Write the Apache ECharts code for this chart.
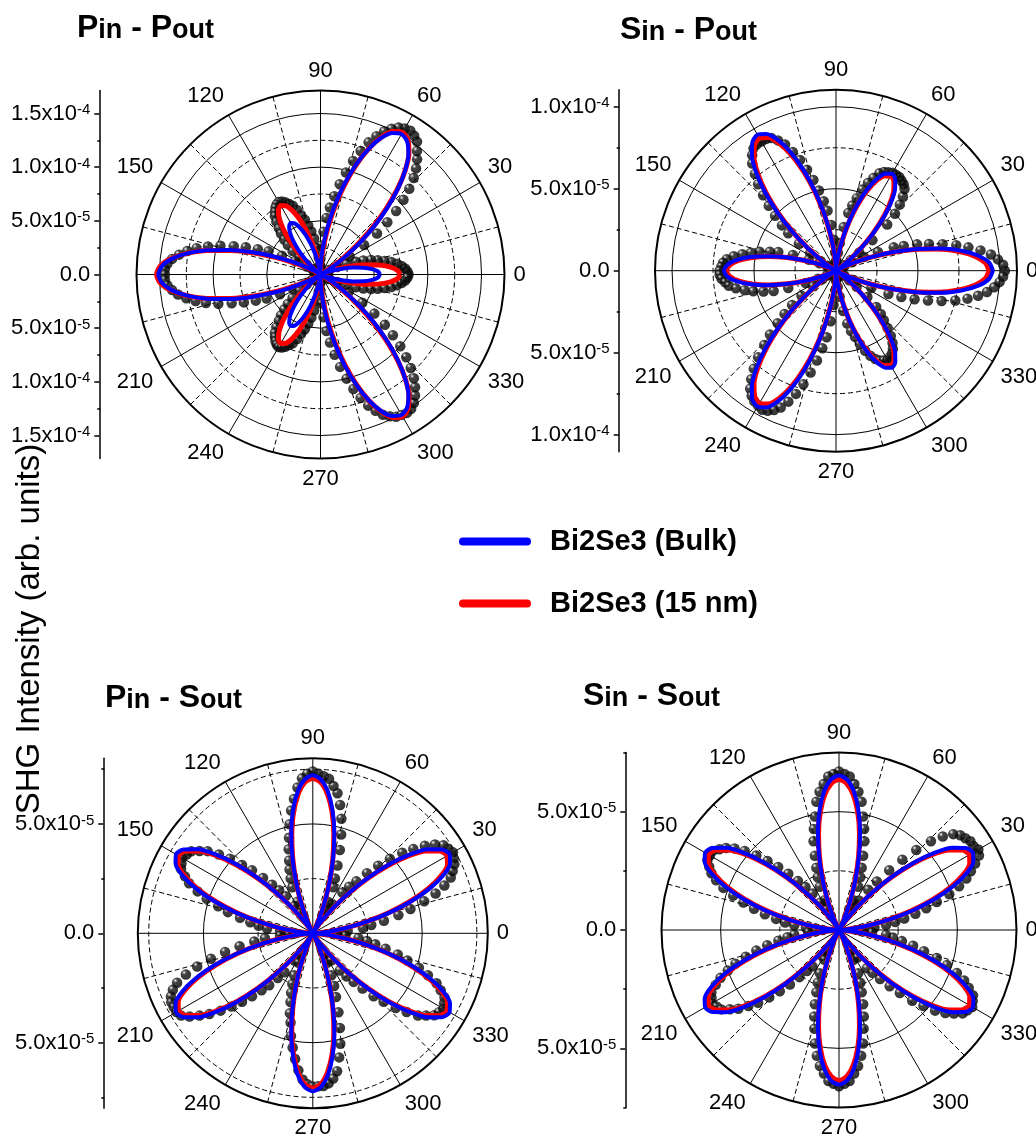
<!DOCTYPE html>
<html><head><meta charset="utf-8">
<script src="https://cdn.jsdelivr.net/npm/echarts@6/dist/echarts.min.js"></script>
<style>html,body{margin:0;padding:0;background:#fff}#c{width:1036px;height:1139px}</style>
</head><body><div id="c"></div>
<script>
// Values in units of 1e-6 (arb. units); angles in degrees
// measured points every 2 degrees, fitted curves sampled every 3 degrees
const dataAngles = [0,2,4,6,8,10,12,14,16,18,20,22,24,26,28,30,32,34,36,38,40,42,44,46,48,50,52,54,56,58,60,62,64,66,68,70,72,74,76,78,80,82,84,86,88,90,92,94,96,98,100,102,104,106,108,110,112,114,116,118,120,122,124,126,128,130,132,134,136,138,140,142,144,146,148,150,152,154,156,158,160,162,164,166,168,170,172,174,176,178,180,182,184,186,188,190,192,194,196,198,200,202,204,206,208,210,212,214,216,218,220,222,224,226,228,230,232,234,236,238,240,242,244,246,248,250,252,254,256,258,260,262,264,266,268,270,272,274,276,278,280,282,284,286,288,290,292,294,296,298,300,302,304,306,308,310,312,314,316,318,320,322,324,326,328,330,332,334,336,338,340,342,344,346,348,350,352,354,356,358];
const fitAngles = [0,3,6,9,12,15,18,21,24,27,30,33,36,39,42,45,48,51,54,57,60,63,66,69,72,75,78,81,84,87,90,93,96,99,102,105,108,111,114,117,120,123,126,129,132,135,138,141,144,147,150,153,156,159,162,165,168,171,174,177,180,183,186,189,192,195,198,201,204,207,210,213,216,219,222,225,228,231,234,237,240,243,246,249,252,255,258,261,264,267,270,273,276,279,282,285,288,291,294,297,300,303,306,309,312,315,318,321,324,327,330,333,336,339,342,345,348,351,354,357];

// Pin - Pout
const ppData = [82,81,79,76,72,67,61,55,49,42,35,26,17,9,
 9,17,32,49,65,79,92,104,115,125,133,140,146,153,156,158,157,155,151,146,139,131,121,110,98,86,74,63,53,40,27,15,8,
 9,16,25,34,41,47,53,58,64,69,72,75,77,78,77,75,72,69,64,58,53,47,41,34,25,16,9,
 8,15,27,40,53,63,74,85,97,108,118,126,133,139,143,145,145,145,143,139,134,127,119,110,99,87,76,65,55,42,29,16,9,
 9,16,25,34,41,47,53,58,64,69,72,75,77,78,77,75,72,69,64,58,53,47,41,34,25,16,9,
 8,15,27,40,53,64,76,88,100,111,121,130,137,143,147,150,151,152,151,148,143,137,130,121,111,100,88,76,62,47,31,17,9,
 9,17,26,35,42,49,55,61,67,72,76,79,81];
const ppThin = [74.1,71.9,65.6,55.8,43.7,30.7,18.4,8.3,1.9,0.1,3.5,12.3,26.1,44.0,64.6,86.2,107.2,125.7,140.2,149.5,152.7,149.5,140.2,125.7,107.2,86.2,64.6,44.0,26.1,12.3,3.5,0.1,1.9,8.3,18.4,30.7,43.7,55.8,65.6,71.9,
74.1,71.9,65.6,55.8,43.7,30.7,18.4,8.3,1.9,0.1,3.5,12.3,26.1,44.0,64.6,86.2,107.2,125.7,140.2,149.5,152.7,149.5,140.2,125.7,107.2,86.2,64.6,44.0,26.1,12.3,3.5,0.1,1.9,8.3,18.4,30.7,43.7,55.8,65.6,71.9,
74.1,71.9,65.6,55.8,43.7,30.7,18.4,8.3,1.9,0.1,3.5,12.3,26.1,44.0,64.6,86.2,107.2,125.7,140.2,149.5,152.7,149.5,140.2,125.7,107.2,86.2,64.6,44.0,26.1,12.3,3.5,0.1,1.9,8.3,18.4,30.7,43.7,55.8,65.6,71.9];
const ppBulk = [55.4,53.6,48.4,40.5,30.9,20.7,11.4,4.2,0.4,0.8,5.9,15.7,29.9,47.6,67.6,88.3,108.2,125.7,139.4,148.0,151.0,148.0,139.4,125.7,108.2,88.3,67.6,47.6,29.9,15.7,5.9,0.8,0.4,4.2,11.4,20.7,30.9,40.5,48.4,53.6,
55.4,53.6,48.4,40.5,30.9,20.7,11.4,4.2,0.4,0.8,5.9,15.7,29.9,47.6,67.6,88.3,108.2,125.7,139.4,148.0,151.0,148.0,139.4,125.7,108.2,88.3,67.6,47.6,29.9,15.7,5.9,0.8,0.4,4.2,11.4,20.7,30.9,40.5,48.4,53.6,
55.4,53.6,48.4,40.5,30.9,20.7,11.4,4.2,0.4,0.8,5.9,15.7,29.9,47.6,67.6,88.3,108.2,125.7,139.4,148.0,151.0,148.0,139.4,125.7,108.2,88.3,67.6,47.6,29.9,15.7,5.9,0.8,0.4,4.2,11.4,20.7,30.9,40.5,48.4,53.6];

// Sin - Pout
const spData = [103,102,99,95,89,82,75,67,59,52,44,38,28,19,11,6,
 4,6,11,18,29,42,50,56,61,65,67,68,69,69,69,68,67,65,61,57,52,46,41,36,27,17,11,6,4,
 6,11,19,28,37,43,50,57,64,71,77,83,87,90,91,91,91,90,87,83,77,71,64,57,50,43,37,28,19,11,6,
 4,6,11,18,28,37,42,48,53,58,63,67,69,70,71,71,70,68,66,62,57,52,46,40,31,20,12,6,4,
 6,10,17,26,34,41,48,56,63,71,78,84,89,92,94,95,96,95,93,90,85,79,72,64,56,48,41,31,21,12,6,
 4,5,10,16,25,33,38,42,47,52,56,59,61,62,63,62,61,59,56,52,47,42,38,33,25,16,10,5,4,
 6,13,24,35,43,51,59,67,75,82,88,93,97,100,102];
const spThin = [93.3,91.2,85.1,75.5,63.3,49.7,35.8,23.0,12.2,4.6,0.6,0.4,4.0,10.9,20.2,30.9,41.8,51.8,59.8,64.9,66.7,64.9,59.8,51.8,41.8,30.9,20.2,10.9,4.0,0.4,0.6,4.6,12.2,23.0,35.8,49.7,63.3,75.5,85.1,91.2,
93.3,91.2,85.1,75.5,63.3,49.7,35.8,23.0,12.2,4.6,0.6,0.4,4.0,10.9,20.2,30.9,41.8,51.8,59.8,64.9,66.7,64.9,59.8,51.8,41.8,30.9,20.2,10.9,4.0,0.4,0.6,4.6,12.2,23.0,35.8,49.7,63.3,75.5,85.1,91.2,
93.3,91.2,85.1,75.5,63.3,49.7,35.8,23.0,12.2,4.6,0.6,0.4,4.0,10.9,20.2,30.9,41.8,51.8,59.8,64.9,66.7,64.9,59.8,51.8,41.8,30.9,20.2,10.9,4.0,0.4,0.6,4.6,12.2,23.0,35.8,49.7,63.3,75.5,85.1,91.2];
const spBulk = [95.7,93.6,87.3,77.5,65.0,51.0,36.8,23.6,12.6,4.7,0.6,0.4,4.1,11.1,20.6,31.6,42.7,53.0,61.2,66.4,68.3,66.4,61.2,53.0,42.7,31.6,20.6,11.1,4.1,0.4,0.6,4.7,12.6,23.6,36.8,51.0,65.0,77.5,87.3,93.6,
95.7,93.6,87.3,77.5,65.0,51.0,36.8,23.6,12.6,4.7,0.6,0.4,4.1,11.1,20.6,31.6,42.7,53.0,61.2,66.4,68.3,66.4,61.2,53.0,42.7,31.6,20.6,11.1,4.1,0.4,0.6,4.7,12.6,23.6,36.8,51.0,65.0,77.5,87.3,93.6,
95.7,93.6,87.3,77.5,65.0,51.0,36.8,23.6,12.6,4.7,0.6,0.4,4.1,11.1,20.6,31.6,42.7,53.0,61.2,66.4,68.3,66.4,61.2,53.0,42.7,31.6,20.6,11.1,4.1,0.4,0.6,4.7,12.6,23.6,36.8,51.0,65.0,77.5,87.3,93.6];

// Pin - Sout
const psData = [9,12,16,23,27,33,40,46,53,59,64,68,70,72,73,74,73,72,69,65,60,55,49,43,37,31,27,23,16,12,
 9,12,16,23,27,33,40,47,54,60,65,68,71,72,73,74,73,71,67,62,57,51,45,40,35,31,27,23,16,12,
 8,11,15,21,25,29,34,40,45,51,56,61,64,67,68,69,68,67,64,61,56,51,45,40,34,29,25,21,15,11,
 8,11,15,22,27,34,41,48,55,61,66,69,71,72,72,72,71,68,64,60,55,50,45,40,35,31,26,22,15,11,
 8,11,15,21,25,29,33,38,42,48,53,58,63,67,69,70,70,70,69,67,64,58,52,45,38,31,26,21,15,11,
 8,11,15,21,25,29,34,40,45,51,56,61,64,67,68,69,68,67,64,61,56,51,45,40,34,29,25,21,15,11];
const psThin = [0,1.7,6.8,14.6,24.5,35.4,46.3,56.2,64.0,69.1,70.8,69.1,64.0,56.2,46.3,35.4,24.5,14.6,6.8,1.7,
0,1.7,6.8,14.6,24.5,35.4,46.3,56.2,64.0,69.1,70.8,69.1,64.0,56.2,46.3,35.4,24.5,14.6,6.8,1.7,
0,1.7,6.8,14.6,24.5,35.4,46.3,56.2,64.0,69.1,70.8,69.1,64.0,56.2,46.3,35.4,24.5,14.6,6.8,1.7,
0,1.7,6.8,14.6,24.5,35.4,46.3,56.2,64.0,69.1,70.8,69.1,64.0,56.2,46.3,35.4,24.5,14.6,6.8,1.7,
0,1.7,6.8,14.6,24.5,35.4,46.3,56.2,64.0,69.1,70.8,69.1,64.0,56.2,46.3,35.4,24.5,14.6,6.8,1.7,
0,1.7,6.8,14.6,24.5,35.4,46.3,56.2,64.0,69.1,70.8,69.1,64.0,56.2,46.3,35.4,24.5,14.6,6.8,1.7];
const psBulk = [0,1.8,6.9,14.9,24.9,36.1,47.3,57.3,65.3,70.4,72.2,70.4,65.3,57.3,47.3,36.1,24.9,14.9,6.9,1.8,
0,1.8,6.9,14.9,24.9,36.1,47.3,57.3,65.3,70.4,72.2,70.4,65.3,57.3,47.3,36.1,24.9,14.9,6.9,1.8,
0,1.8,6.9,14.9,24.9,36.1,47.3,57.3,65.3,70.4,72.2,70.4,65.3,57.3,47.3,36.1,24.9,14.9,6.9,1.8,
0,1.8,6.9,14.9,24.9,36.1,47.3,57.3,65.3,70.4,72.2,70.4,65.3,57.3,47.3,36.1,24.9,14.9,6.9,1.8,
0,1.8,6.9,14.9,24.9,36.1,47.3,57.3,65.3,70.4,72.2,70.4,65.3,57.3,47.3,36.1,24.9,14.9,6.9,1.8,
0,1.8,6.9,14.9,24.9,36.1,47.3,57.3,65.3,70.4,72.2,70.4,65.3,57.3,47.3,36.1,24.9,14.9,6.9,1.8];

// Sin - Sout
const ssData = [8,11,15,20,24,28,33,38,43,49,54,58,61,64,67,68,67,67,66,65,63,59,54,47,40,33,26,21,15,11,
 8,10,14,20,24,28,33,39,44,49,55,59,62,65,66,67,66,65,62,59,55,49,44,39,33,28,24,20,14,10,
 7,10,14,19,23,27,32,37,42,47,52,56,59,61,63,63,63,61,59,56,52,47,42,37,32,27,23,19,14,10,
 7,10,13,19,22,26,31,36,41,46,50,54,57,60,61,62,61,60,57,54,50,46,41,36,31,26,22,19,13,10,
 8,10,14,20,24,28,33,38,43,49,54,58,61,64,65,66,65,64,61,58,54,49,43,38,33,28,24,20,14,10,
 8,10,14,20,23,27,32,37,43,48,53,57,60,63,64,65,64,63,60,57,53,48,43,37,32,27,23,20,14,10];
const ssThin = [0,1.6,6.1,13.1,22.0,31.8,41.6,50.5,57.5,62.0,63.6,62.0,57.5,50.5,41.6,31.8,22.0,13.1,6.1,1.6,
0,1.6,6.1,13.1,22.0,31.8,41.6,50.5,57.5,62.0,63.6,62.0,57.5,50.5,41.6,31.8,22.0,13.1,6.1,1.6,
0,1.6,6.1,13.1,22.0,31.8,41.6,50.5,57.5,62.0,63.6,62.0,57.5,50.5,41.6,31.8,22.0,13.1,6.1,1.6,
0,1.6,6.1,13.1,22.0,31.8,41.6,50.5,57.5,62.0,63.6,62.0,57.5,50.5,41.6,31.8,22.0,13.1,6.1,1.6,
0,1.6,6.1,13.1,22.0,31.8,41.6,50.5,57.5,62.0,63.6,62.0,57.5,50.5,41.6,31.8,22.0,13.1,6.1,1.6,
0,1.6,6.1,13.1,22.0,31.8,41.6,50.5,57.5,62.0,63.6,62.0,57.5,50.5,41.6,31.8,22.0,13.1,6.1,1.6];
const ssBulk = [0,1.6,6.2,13.5,22.6,32.7,42.7,51.8,59.1,63.7,65.3,63.7,59.1,51.8,42.7,32.7,22.6,13.5,6.2,1.6,
0,1.6,6.2,13.5,22.6,32.7,42.7,51.8,59.1,63.7,65.3,63.7,59.1,51.8,42.7,32.7,22.6,13.5,6.2,1.6,
0,1.6,6.2,13.5,22.6,32.7,42.7,51.8,59.1,63.7,65.3,63.7,59.1,51.8,42.7,32.7,22.6,13.5,6.2,1.6,
0,1.6,6.2,13.5,22.6,32.7,42.7,51.8,59.1,63.7,65.3,63.7,59.1,51.8,42.7,32.7,22.6,13.5,6.2,1.6,
0,1.6,6.2,13.5,22.6,32.7,42.7,51.8,59.1,63.7,65.3,63.7,59.1,51.8,42.7,32.7,22.6,13.5,6.2,1.6,
0,1.6,6.2,13.5,22.6,32.7,42.7,51.8,59.1,63.7,65.3,63.7,59.1,51.8,42.7,32.7,22.6,13.5,6.2,1.6];

// Tick values
const minorAngles = [15,45,75,105,135,165,195,225,255,285,315,345];
const ppRings = [50,100,150], ppRingsMinor = [25,75,125];
const ppTicks = [-150,-100,-50,0,50,100,150], ppTicksMinor = [-125,-75,-25,25,75,125];
const spRings = [50,100], spRingsMinor = [25,75];
const spTicks = [-100,-50,0,50,100], spTicksMinor = [-75,-25,25,75];
const psRings = [50], psRingsMinor = [25,75];
const psTicks = [-50,0,50], psTicksMinor = [-75,-25,25,75];
const ssRings = [50], ssRingsMinor = [25];
const ssTicks = [-50,0,50], ssTicksMinor = [-75,-25,25,75];

const NAME_BULK = 'Bi2Se3 (Bulk)', NAME_THIN = 'Bi2Se3 (15 nm)';
const FONT = '"Liberation Sans", Arial, sans-serif';

const panels = [
  {title:'{m|P}{s|in}{m| - P}{s|out}', tl:[77,12], center:[320.5,274.5], radius:184, max:171.4, axisX:99.3,
   data:ppData, thin:ppThin, bulk:ppBulk, rings:ppRings, ringsMinor:ppRingsMinor, ticks:ppTicks, ticksMinor:ppTicksMinor},
  {title:'{m|S}{s|in}{m| - P}{s|out}', tl:[620,14], center:[836,270.7], radius:181, max:110.4, axisX:618.7,
   data:spData, thin:spThin, bulk:spBulk, rings:spRings, ringsMinor:spRingsMinor, ticks:spTicks, ticksMinor:spTicksMinor},
  {title:'{m|P}{s|in}{m| - S}{s|out}', tl:[105,682], center:[312.8,933.3], radius:175, max:80, axisX:103.3,
   data:psData, thin:psThin, bulk:psBulk, rings:psRings, ringsMinor:psRingsMinor, ticks:psTicks, ticksMinor:psTicksMinor},
  {title:'{m|S}{s|in}{m| - S}{s|out}', tl:[583,680], center:[839,930], radius:177.5, max:75, axisX:625.3,
   data:ssData, thin:ssThin, bulk:ssBulk, rings:ssRings, ringsMinor:ssRingsMinor, ticks:ssTicks, ticksMinor:ssTicksMinor}
];

function fmtY(v){
  v = Math.abs(v);
  if (v < 1e-9) return '0.0';
  const val = v * 1e-6;
  const e = Math.floor(Math.log10(val) + 1e-9);
  const m = val / Math.pow(10, e);
  return m.toFixed(1) + 'x10{sup|' + e + '}';
}
const toPolar = (arr, ang) => arr.map((v,i)=>[v, ang[i]]).concat([[arr[0], 360]]);

const sphere = {type:'radial', x:0.33, y:0.3, r:0.75, colorStops:[
  {offset:0, color:'#ffffff'}, {offset:0.1, color:'#a0a0a0'}, {offset:0.28, color:'#151515'}, {offset:1, color:'#000000'}]};

const option = {
  animation:false, backgroundColor:'#ffffff',
  title:[], polar:[], angleAxis:[], radiusAxis:[], grid:[], xAxis:[], yAxis:[], series:[],
  legend:{
    data:[NAME_BULK, NAME_THIN], orient:'vertical', left:454, top:522, itemWidth:72, itemHeight:8, itemGap:33,
    icon:'path://M4,0L68,0A4,4,0,0,1,68,8L4,8A4,4,0,0,1,4,0Z', selectedMode:false,
    itemStyle:{borderWidth:0},
    textStyle:{fontSize:29, fontWeight:'bold', color:'#000', fontFamily:FONT, padding:[0,0,0,14]}
  },
  graphic:[{type:'text', x:30, y:629, rotation:Math.PI/2,
    style:{text:'SHG Intensity (arb. units)', fill:'#000', font:'33px "Liberation Sans", Arial, sans-serif', textAlign:'center', textVerticalAlign:'middle'}}]
};

panels.forEach((p, i) => {
  const a = 2*i, b = 2*i + 1;
  option.title.push({text:p.title, left:p.tl[0], top:p.tl[1], padding:0,
    textStyle:{rich:{
      m:{fontSize:32, fontWeight:'bold', fontFamily:FONT, color:'#000'},
      s:{fontSize:27, fontWeight:'bold', fontFamily:FONT, color:'#000', verticalAlign:'bottom'}}}});
  option.polar.push({center:p.center, radius:p.radius});
  option.polar.push({center:p.center, radius:p.radius});
  option.angleAxis.push({polarIndex:a, type:'value', min:0, max:360, interval:30, startAngle:0, clockwise:false,
    axisLine:{show:true, lineStyle:{color:'#000', width:2}}, axisTick:{show:false},
    axisLabel:{show:true, margin:9, color:'#000', fontSize:22, fontFamily:FONT,
      formatter:v => (v >= 360 || v === 180 ? '' : String(v))},
    splitLine:{show:true, lineStyle:{color:'#000', width:1}}});
  option.angleAxis.push({polarIndex:b, type:'value', min:0, max:360, startAngle:0, clockwise:false,
    axisLine:{show:false}, axisTick:{show:false, customValues:minorAngles}, axisLabel:{show:false},
    splitLine:{show:true, lineStyle:{color:'#000', width:1, type:[5,3]}}});
  option.radiusAxis.push({polarIndex:a, type:'value', min:0, max:p.max,
    axisLine:{show:false}, axisTick:{show:false, customValues:p.rings}, axisLabel:{show:false},
    splitLine:{show:true, lineStyle:{color:'#000', width:1}}});
  option.radiusAxis.push({polarIndex:b, type:'value', min:0, max:p.max,
    axisLine:{show:false}, axisTick:{show:false, customValues:p.ringsMinor}, axisLabel:{show:false},
    splitLine:{show:true, lineStyle:{color:'#000', width:1, type:[5,3]}}});

  option.grid.push({left:p.axisX, top:p.center[1]-p.radius, height:2*p.radius, width:1});
  option.xAxis.push({gridIndex:i, type:'value', show:false, min:0, max:1});
  option.yAxis.push({gridIndex:i, type:'value', min:-p.max, max:p.max, position:'left',
    axisLine:{show:true, onZero:false, lineStyle:{color:'#000', width:1.5}},
    axisTick:{show:true, length:5, customValues:p.ticks, lineStyle:{color:'#000', width:1.5}},
    axisLabel:{show:true, customValues:p.ticks, margin:9, color:'#000', fontSize:22, fontFamily:FONT, formatter:fmtY,
      rich:{sup:{fontSize:15, fontFamily:FONT, color:'#000', verticalAlign:'top'}}},
    splitLine:{show:false}});
  option.yAxis.push({gridIndex:i, type:'value', min:-p.max, max:p.max, position:'right', offset:-1,
    axisLine:{show:false}, axisTick:{show:true, inside:true, length:3, customValues:p.ticksMinor, lineStyle:{color:'#000', width:1.5}},
    axisLabel:{show:false}, splitLine:{show:false}});

  option.series.push({type:'scatter', name:'Data', coordinateSystem:'polar', polarIndex:a, z:2,
    symbol:'circle', symbolSize:10.5, itemStyle:{color:sphere}, data:p.data.map((v,k)=>[v, dataAngles[k]])});
  option.series.push({type:'line', name:NAME_THIN, coordinateSystem:'polar', polarIndex:a, z:3,
    showSymbol:false, smooth:0.25, color:'#ff0000', itemStyle:{color:'#ff0000'},
    lineStyle:{color:'#ff0000', width:5}, data:toPolar(p.thin, fitAngles)});
  option.series.push({type:'line', name:NAME_BULK, coordinateSystem:'polar', polarIndex:a, z:4,
    showSymbol:false, smooth:0.25, color:'#0000ff', itemStyle:{color:'#0000ff'},
    lineStyle:{color:'#0000ff', width:4}, data:toPolar(p.bulk, fitAngles)});
});

const chart = echarts.init(document.getElementById('c'), null, {renderer:'canvas'});
chart.setOption(option);
</script>
</body></html>
